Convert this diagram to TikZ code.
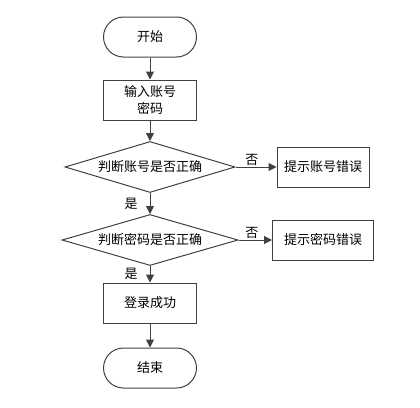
\documentclass[tikz,border=0pt]{standalone}
\usepackage{fontspec}
\setmainfont{Noto Sans CJK SC}
\usetikzlibrary{shapes.geometric,arrows.meta}
\tikzstyle{term} = [rectangle, rounded corners=20pt, minimum width=93pt, minimum height=40pt, text centered, draw=black!75, line width=1pt]
\tikzstyle{box} = [rectangle, minimum width=93pt, minimum height=40pt, text centered, align=center, draw=black!75, line width=1pt]
\tikzstyle{check} = [diamond, aspect=3.2, inner sep=0pt, minimum width=170pt, minimum height=51pt, text centered, draw=black!75, line width=1pt]
\tikzstyle{arrow} = [line width=1pt, draw=black!75, -{Triangle[length=8pt,width=8pt]}]
\tikzstyle{tag} = [inner sep=0pt, font=\fontsize{13}{16}\selectfont]

\begin{document}
\begin{tikzpicture}[node distance=65pt, font=\fontsize{13}{17}\selectfont]
\useasboundingbox (-150pt,37pt) rectangle (270pt,-370pt);

\node (start) [term] {开始};
\node (input) [box, below of=start, yshift=2pt] {输入账号\\密码};
\node (checkuser) [check, below of=input, yshift=-2pt] {判断账号是否正确};
\node (erruser) [box, right of=checkuser, xshift=108pt, minimum width=92pt] {提示账号错误};
\node (checkpwd) [check, below of=checkuser, yshift=-8pt, minimum width=176pt] {判断密码是否正确};
\node (errpwd) [box, right of=checkpwd, xshift=108pt, minimum width=101pt] {提示密码错误};
\node (login) [box, below of=checkpwd, yshift=2pt] {登录成功};
\node (stop) [term, below of=login] {结束};

% Arrows
\draw [arrow] (start) -- (input);
\draw [arrow] (input) -- (checkuser);
\draw [arrow] (checkuser) -- node[tag, above=1pt, pos=0.4] {否} (erruser);
\draw [arrow] (checkuser) -- node[tag, left=12pt, pos=0.5] {是} (checkpwd);
\draw [arrow] (checkpwd) -- node[tag, above=1pt, pos=0.4] {否} (errpwd);
\draw [arrow] (checkpwd) -- node[tag, left=12pt, pos=0.5] {是} (login);
\draw [arrow] (login) -- (stop);

\end{tikzpicture}
\end{document}
